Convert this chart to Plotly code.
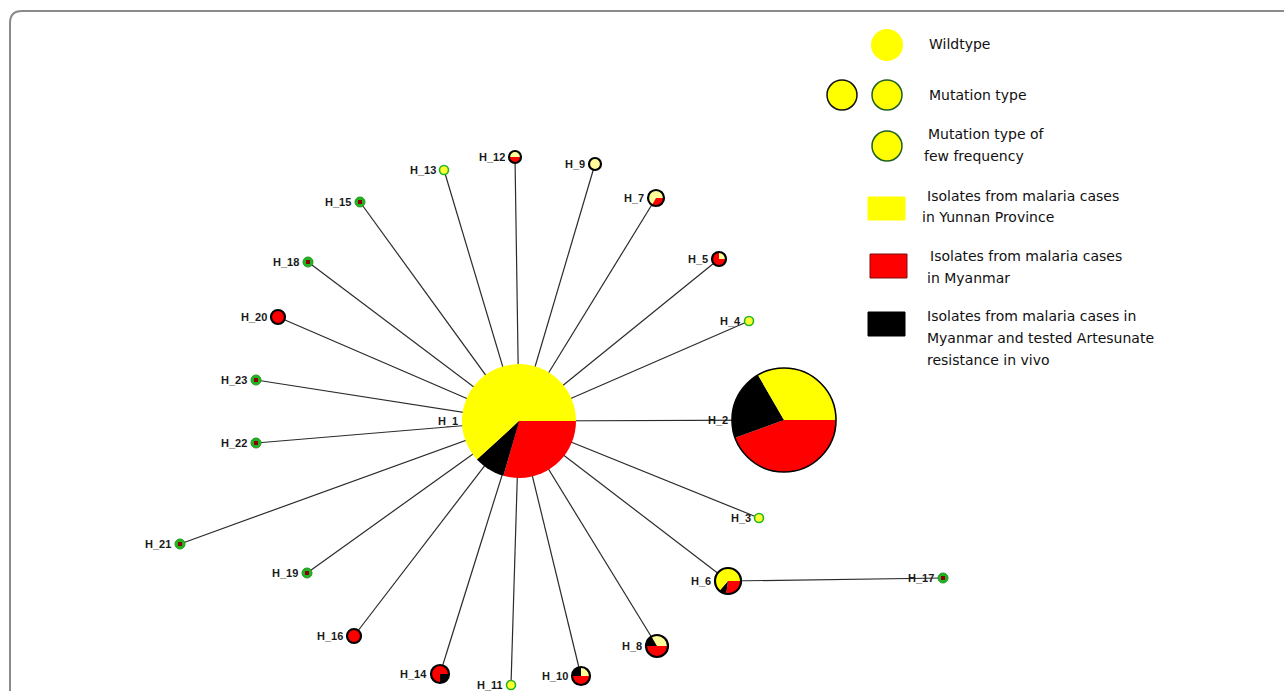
import math
import plotly.graph_objects as go

# ---- haplotype network data ----
haplotypes = ["H_1", "H_2", "H_3", "H_4", "H_5", "H_6", "H_7", "H_8", "H_9", "H_10",
              "H_11", "H_12", "H_13", "H_14", "H_15", "H_16", "H_17", "H_18", "H_19",
              "H_20", "H_21", "H_22", "H_23"]
# network layout coordinates (screen units, y grows downward)
node_x = [519, 784, 759, 749, 719, 728, 656, 657, 595, 581,
          511, 515, 444, 440, 360, 354, 943, 308, 307, 278, 180, 256, 256]
node_y = [421, 420, 518, 321, 259, 581, 198, 646, 164, 676,
          685, 157, 170, 674, 202, 636, 578, 262, 573, 317, 544, 443, 380]
# isolate counts per haplotype
myanmar = [10, 8, 0, 0, 3, 3, 1, 3, 0, 2, 0, 1, 0, 3, 1, 1, 1, 1, 1, 1, 1, 1, 1]
artesunate = [3, 4, 0, 0, 0, 1, 0, 1, 0, 1, 0, 0, 0, 1, 0, 0, 0, 0, 0, 0, 0, 0, 0]
yunnan = [21, 6, 1, 1, 1, 7, 2, 2, 1, 1, 1, 1, 1, 0, 0, 0, 0, 0, 0, 0, 0, 0, 0]
node_type = ["wild", "mutation", "rare", "rare", "mutation", "mutation", "mutation",
             "mutation", "mutation", "mutation", "rare", "mutation", "rare", "mutation",
             "rare", "mutation", "rare", "rare", "rare", "mutation", "rare", "rare", "rare"]
edges = [("H_1", h) for h in haplotypes[1:] if h != "H_17"] + [("H_6", "H_17")]

legend_lines = [
    ("Wildtype", 927, 44),
    ("Mutation type", 927, 95),
    ("Mutation type of", 926, 134),
    ("few frequency", 922, 156),
    ("Isolates from malaria cases", 925, 196),
    ("in Yunnan Province", 920, 217),
    ("Isolates from malaria cases", 928, 256),
    ("in Myanmar", 925, 278),
    ("Isolates from malaria cases in", 925, 316),
    ("Myanmar and tested Artesunate", 925, 338),
    ("resistance in vivo", 925, 360),
]

# ---- drawing styles ----
radius = [57, 52, 4, 4, 7, 13, 8, 11, 6, 9, 4, 6, 4, 9, 5, 7, 5, 5, 5, 7, 5, 5, 5]
start_deg = [0, 0, 0, 0, 0, 0, 0, 0, 0, 0, 0, 0, 0, 90, 0, 0, 0, 0, 0, 0, 0, 0, 0]
RED, BLACK = "#FF0000", "#000000"
YELLOW_BIG, YELLOW_SMALL = "#FFFF00", "#FFFF9A"
GREEN = "#22B422"
LABEL_FONT = "Liberation Sans, Arial, sans-serif"
LEGEND_FONT = "DejaVu Sans, Verdana, sans-serif"

idx = {h: i for i, h in enumerate(haplotypes)}
fig = go.Figure()
shapes = []
annotations = []


def wedge_path(cx, cy, r, a0, a1, steps=60):
    n = max(2, int(steps * (a1 - a0) / (2 * math.pi)) + 2)
    pts = [(cx, cy)]
    for k in range(n + 1):
        a = a0 + (a1 - a0) * k / n
        pts.append((cx + r * math.cos(a), cy + r * math.sin(a)))
    return "M " + " L ".join(f"{x:.2f},{y:.2f}" for x, y in pts) + " Z"


# edges
for s, t in edges:
    i, j = idx[s], idx[t]
    fig.add_trace(go.Scatter(x=[node_x[i], node_x[j]], y=[node_y[i], node_y[j]],
                             mode="lines", line=dict(color="#2b2b2b", width=1.2),
                             hoverinfo="skip", showlegend=False))

# low-frequency haplotypes as small green-edged dots
for i, h in enumerate(haplotypes):
    if node_type[i] != "rare":
        continue
    if yunnan[i] > 0:
        fig.add_trace(go.Scatter(x=[node_x[i]], y=[node_y[i]], mode="markers",
                                 marker=dict(size=2 * radius[i] + 1, color="#FFFF30",
                                             line=dict(color=GREEN, width=1.6)),
                                 hoverinfo="skip", showlegend=False))
    else:
        fig.add_trace(go.Scatter(x=[node_x[i]], y=[node_y[i]], mode="markers",
                                 marker=dict(size=2 * radius[i], color=GREEN,
                                             line=dict(color="#1E9A1E", width=1)),
                                 hoverinfo="skip", showlegend=False))
        fig.add_trace(go.Scatter(x=[node_x[i]], y=[node_y[i]], mode="markers",
                                 marker=dict(size=4, color="#8B0000", symbol="square"),
                                 hoverinfo="skip", showlegend=False))

# pie nodes
for i, h in enumerate(haplotypes):
    if node_type[i] == "rare":
        continue
    cx, cy, r = node_x[i], node_y[i], radius[i]
    yel = YELLOW_BIG if r >= 12 else YELLOW_SMALL
    parts = [(myanmar[i], RED), (artesunate[i], BLACK), (yunnan[i], yel)]
    total = sum(v for v, _ in parts)
    a = math.radians(start_deg[i])
    nonzero = [p for p in parts if p[0] > 0]
    if len(nonzero) == 1:
        shapes.append(dict(type="circle", xref="x", yref="y", x0=cx - r, x1=cx + r,
                           y0=cy - r, y1=cy + r, fillcolor=nonzero[0][1],
                           line=dict(width=0), layer="above"))
    else:
        for v, col in parts:
            if v == 0:
                continue
            b = a + 2 * math.pi * v / total
            shapes.append(dict(type="path", xref="x", yref="y",
                               path=wedge_path(cx, cy, r, a, b),
                               fillcolor=col, line=dict(width=0), layer="above"))
            a = b
    if node_type[i] == "mutation":
        shapes.append(dict(type="circle", xref="x", yref="y", x0=cx - r, x1=cx + r,
                           y0=cy - r, y1=cy + r, fillcolor="rgba(0,0,0,0)",
                           line=dict(color="#000000", width=1.6 if r > 20 else 2.2),
                           layer="above"))

# node labels
for i, h in enumerate(haplotypes):
    annotations.append(dict(x=node_x[i] - radius[i] - 2, y=node_y[i], text=f"<b>{h}</b>",
                            xref="x", yref="y", xanchor="right", yanchor="middle",
                            showarrow=False,
                            font=dict(family=LABEL_FONT, size=11, color="#1a1a1a")))

# legend symbols
def circ(cx, cy, r, fill, edge=None, w=0):
    shapes.append(dict(type="circle", xref="x", yref="y", x0=cx - r, x1=cx + r,
                       y0=cy - r, y1=cy + r, fillcolor=fill,
                       line=dict(color=edge or fill, width=w), layer="above"))


circ(887, 45, 16, YELLOW_BIG)
circ(842, 95, 15, YELLOW_BIG, "#111111", 1.5)
circ(887, 95, 15, YELLOW_BIG, "#1F5F1F", 1.5)
circ(887, 146, 15, YELLOW_BIG, "#1F5F1F", 1.5)
for (x0, y0, x1, y1, col, edge) in [(868, 197, 905, 220, YELLOW_BIG, YELLOW_BIG),
                                     (870, 254, 907, 278, RED, "#7A1010"),
                                     (868, 312, 905, 336, BLACK, BLACK)]:
    shapes.append(dict(type="rect", xref="x", yref="y", x0=x0, x1=x1, y0=y0, y1=y1,
                       fillcolor=col, line=dict(color=edge, width=1), layer="above"))

for text, x, y in legend_lines:
    annotations.append(dict(x=x, y=y, text=text, xref="x", yref="y", xanchor="left",
                            yanchor="middle", showarrow=False,
                            font=dict(family=LEGEND_FONT, size=14, color="#111111")))

# rounded frame
shapes.append(dict(type="path", xref="x", yref="y",
                   path="M 10,720 L 10,23 Q 10,11 22,11 L 1320,11",
                   line=dict(color="#8a8a8a", width=2), layer="above"))

fig.update_layout(
    width=1284, height=691,
    margin=dict(l=0, r=0, t=0, b=0),
    paper_bgcolor="white", plot_bgcolor="white",
    xaxis=dict(range=[0, 1284], visible=False, fixedrange=True),
    yaxis=dict(range=[691, 0], visible=False, fixedrange=True),
    shapes=shapes, annotations=annotations, showlegend=False,
)
fig.write_html("out.html")
